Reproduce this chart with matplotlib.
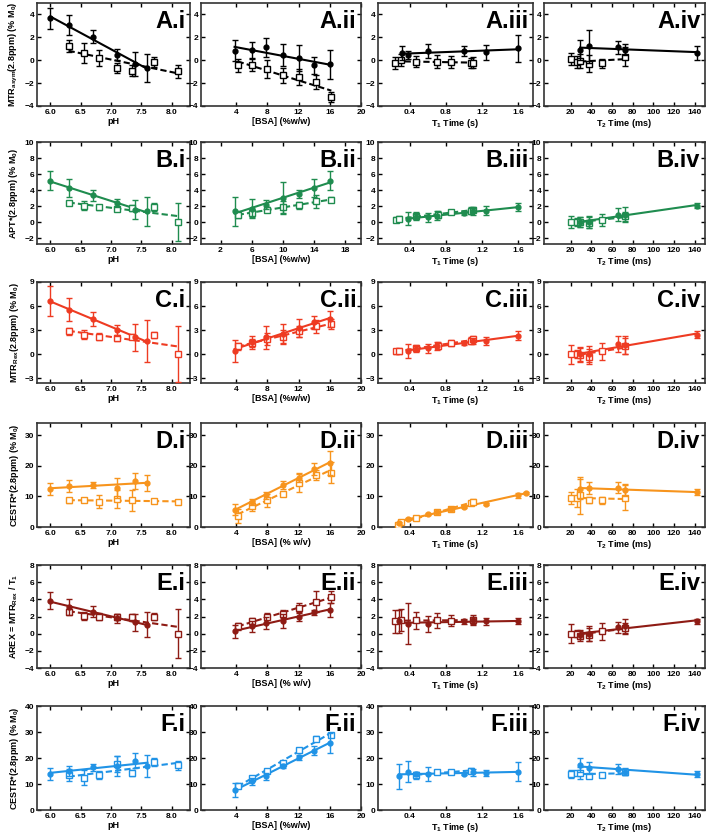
import numpy as np
import matplotlib
matplotlib.use('Agg')
import matplotlib.pyplot as plt

plt.rcParams['font.family'] = 'Liberation Sans'
plt.rcParams['font.weight'] = 'bold'
plt.rcParams['mathtext.fontset'] = 'custom'
plt.rcParams['mathtext.rm'] = 'Liberation Sans:bold'
plt.rcParams['mathtext.it'] = 'Liberation Sans:bold'
plt.rcParams['mathtext.bf'] = 'Liberation Sans:bold'
plt.rcParams['mathtext.default'] = 'rm'

# x values shared by all rows
ph_fill = [6.0, 6.3, 6.7, 7.1, 7.4, 7.6]
ph_open = [6.3, 6.55, 6.8, 7.1, 7.35, 7.7, 8.1]
bsa_fill = [3.8, 6.0, 7.8, 10.0, 12.0, 14.0, 16.0]
bsa_open = [4.2, 6.0, 8.0, 10.0, 12.0, 14.2, 16.2]

# ---- row A : MTRasym
A_ph_fill = [3.65, 3.08, 2.07, 0.49, -0.32, -0.66]
A_ph_fill_err = [0.9, 0.9, 0.58, 0.45, 1.07, 1.2]
A_ph_open = [1.27, 0.63, 0.2, -0.66, -0.92, -0.12, -0.98]
A_ph_open_err = [0.53, 0.9, 0.72, 0.46, 0.47, 0.43, 0.53]
A_bsa_fill = [0.83, 0.9, 1.12, 0.46, 0.2, -0.46, -0.37]
A_bsa_fill_err = [0.93, 0.68, 0.8, 1.0, 1.1, 0.72, 1.25]
A_bsa_open = [-0.46, -0.4, -0.75, -1.32, -1.47, -1.9, -3.2]
A_bsa_open_err = [0.53, 0.53, 0.78, 0.68, 0.72, 0.58, 0.43]
A_t1_fill_x = [0.31, 0.38, 0.6, 1.0, 1.24, 1.6]
A_t1_fill = [0.63, 0.46, 0.78, 0.78, 0.7, 1.04]
A_t1_fill_err = [0.65, 0.35, 0.6, 0.45, 0.65, 1.2]
A_t1_open_x = [0.24, 0.3, 0.47, 0.7, 0.86, 1.08, 1.1]
A_t1_open = [-0.23, 0.03, -0.12, -0.12, -0.17, -0.25, -0.2]
A_t1_open_err = [0.5, 0.55, 0.5, 0.55, 0.5, 0.45, 0.5]
A_t2_fill_x = [29, 38, 66, 72, 142]
A_t2_fill = [0.9, 1.2, 1.12, 0.92, 0.66]
A_t2_fill_err = [0.9, 1.4, 0.6, 0.5, 0.6]
A_t2_open_x = [20, 26, 29, 38, 50, 72]
A_t2_open = [0.12, -0.17, -0.1, -0.32, -0.26, 0.32]
A_t2_open_err = [0.5, 0.5, 0.6, 0.75, 0.4, 0.8]

# ---- row B : APT*
B_ph_fill = [5.17, 4.25, 3.33, 2.37, 1.54, 1.33]
B_ph_fill_err = [1.15, 1.15, 0.65, 0.45, 1.2, 1.85]
B_ph_open = [2.37, 2.04, 1.83, 1.67, 1.75, 1.92, 0.0]
B_ph_open_err = [0.3, 0.55, 0.35, 0.35, 0.4, 0.5, 2.4]
B_bsa_fill = [1.33, 1.67, 2.17, 3.0, 3.5, 4.25, 5.17]
B_bsa_fill_err = [1.85, 1.2, 0.55, 1.95, 0.5, 1.15, 1.15]
B_bsa_open = [0.92, 1.12, 1.54, 1.83, 2.08, 2.58, 2.79]
B_bsa_open_err = [0.4, 0.5, 0.3, 0.75, 0.45, 0.8, 0.35]
B_t1_fill_x = [0.38, 0.47, 0.6, 0.7, 1.0, 1.1, 1.24, 1.6]
B_t1_fill = [0.42, 0.62, 0.58, 0.79, 1.12, 1.33, 1.42, 1.87]
B_t1_fill_err = [0.85, 0.4, 0.6, 0.55, 0.3, 0.4, 0.55, 0.45]
B_t1_open_x = [0.25, 0.28, 0.47, 0.71, 0.86, 1.08, 1.1]
B_t1_open = [0.29, 0.42, 0.79, 0.92, 1.21, 1.42, 1.54]
B_t1_open_err = [0.3, 0.35, 0.4, 0.4, 0.25, 0.4, 0.35]
B_t2_fill_x = [29, 38, 66, 72, 142]
B_t2_fill = [0.0, 0.0, 0.92, 0.92, 2.04]
B_t2_fill_err = [0.65, 0.8, 0.85, 0.9, 0.35]
B_t2_open_x = [20, 26, 29, 38, 50, 72]
B_t2_open = [0.0, 0.0, 0.0, -0.1, 0.25, 0.7]
B_t2_open_err = [0.8, 0.5, 0.6, 0.7, 0.8, 0.6]

# ---- row C : MTRRex
C_ph_fill = [6.67, 5.54, 4.42, 2.96, 2.08, 1.67]
C_ph_fill_err = [1.85, 1.45, 0.85, 0.7, 1.7, 2.6]
C_ph_open = [2.83, 2.42, 2.2, 2.0, 2.2, 2.42, 0.0]
C_ph_open_err = [0.4, 0.55, 0.4, 0.35, 0.35, 0.4, 3.45]
C_bsa_fill = [0.42, 1.46, 2.08, 2.5, 3.25, 3.96, 4.38]
C_bsa_fill_err = [1.4, 0.8, 1.4, 1.2, 1.1, 0.8, 0.95]
C_bsa_open = [0.96, 1.38, 1.88, 2.2, 2.83, 3.46, 3.75]
C_bsa_open_err = [0.4, 0.55, 0.75, 0.75, 0.65, 0.8, 0.6]
C_t1_fill_x = [0.38, 0.47, 0.6, 0.7, 1.0, 1.1, 1.24, 1.6]
C_t1_fill = [0.42, 0.62, 0.75, 1.04, 1.38, 1.67, 1.67, 2.29]
C_t1_fill_err = [0.85, 0.4, 0.55, 0.5, 0.3, 0.35, 0.5, 0.55]
C_t1_open_x = [0.25, 0.28, 0.47, 0.71, 0.86, 1.08, 1.1]
C_t1_open = [0.33, 0.42, 0.75, 1.04, 1.38, 1.67, 1.88]
C_t1_open_err = [0.3, 0.35, 0.4, 0.45, 0.35, 0.45, 0.4]
C_t2_fill_x = [29, 38, 66, 72, 142]
C_t2_fill = [0.0, 0.0, 1.25, 1.17, 2.42]
C_t2_fill_err = [0.9, 1.0, 1.0, 1.1, 0.45]
C_t2_open_x = [20, 26, 29, 38, 50, 72]
C_t2_open = [0.0, 0.0, -0.1, -0.3, 0.33, 0.96]
C_t2_open_err = [1.2, 0.5, 0.9, 0.9, 1.0, 1.0]

# ---- row D : CESTR* (% w/v)
D_ph_fill = [12.45, 13.4, 13.7, 12.8, 15.1, 14.3]
D_ph_fill_err = [2.0, 2.0, 1.0, 3.3, 2.6, 2.6]
D_ph_open = [8.7, 8.7, 8.3, 9.1, 8.7, 8.5, 8.15]
D_ph_open_err = [0.8, 0.5, 2.0, 2.9, 3.5, 0.8, 0.4]
D_bsa_fill = [5.66, 8.27, 10.4, 13.6, 16.1, 18.9, 20.9]
D_bsa_fill_err = [1.8, 1.0, 1.2, 1.3, 1.5, 2.0, 3.9]
D_bsa_open = [3.6, 6.8, 8.7, 10.8, 14.4, 17.0, 17.8]
D_bsa_open_err = [2.2, 1.6, 2.0, 0.6, 3.0, 1.7, 3.5]
D_t1_fill_x = [0.28, 0.38, 0.6, 0.7, 0.86, 1.0, 1.24, 1.6, 1.68]
D_t1_fill = [1.36, 2.6, 4.2, 4.9, 6.0, 6.6, 7.6, 10.4, 11.2]
D_t1_fill_err = [0.4, 0.4, 0.3, 0.3, 0.4, 0.4, 0.3, 0.8, 0.3]
D_t1_open_x = [0.27, 0.3, 0.47, 0.7, 0.86, 1.08, 1.1]
D_t1_open = [0.8, 1.5, 2.8, 4.9, 6.0, 7.9, 8.3]
D_t1_open_err = [0.4, 0.3, 0.4, 0.4, 0.4, 0.5, 0.7]
D_t2_fill_x = [29, 38, 66, 72, 142]
D_t2_fill = [12.45, 12.7, 12.8, 12.1, 11.3]
D_t2_fill_err = [3.3, 2.0, 1.8, 1.9, 1.0]
D_t2_open_x = [20, 26, 29, 38, 50, 72]
D_t2_open = [9.6, 9.4, 10.4, 8.7, 8.7, 9.6]
D_t2_open_err = [2.0, 3.0, 6.0, 1.0, 1.2, 4.0]

# ---- row E : AREX
E_ph_fill = [3.82, 3.08, 2.58, 1.8, 1.34, 1.03]
E_ph_fill_err = [1.0, 0.95, 0.6, 0.5, 1.0, 1.45]
E_ph_open = [2.58, 2.07, 2.0, 1.89, 1.89, 2.0, 0.0]
E_ph_open_err = [0.3, 0.45, 0.4, 0.35, 0.4, 0.45, 2.85]
E_bsa_fill = [0.26, 0.84, 1.23, 1.5, 2.0, 2.5, 2.78]
E_bsa_fill_err = [0.8, 0.6, 0.7, 0.8, 0.5, 0.3, 0.85]
E_bsa_open = [0.84, 1.42, 2.0, 2.27, 2.97, 3.74, 4.24]
E_bsa_open_err = [0.45, 0.4, 0.45, 0.5, 0.6, 1.2, 0.7]
E_t1_fill_x = [0.28, 0.38, 0.6, 1.0, 1.1, 1.24, 1.6]
E_t1_fill = [1.42, 1.15, 1.15, 1.42, 1.54, 1.42, 1.42]
E_t1_fill_err = [1.3, 2.4, 0.9, 0.3, 0.45, 0.45, 0.35]
E_t1_open_x = [0.24, 0.3, 0.47, 0.7, 0.86, 1.1]
E_t1_open = [1.42, 1.62, 1.54, 1.54, 1.5, 1.62]
E_t1_open_err = [1.3, 1.3, 1.0, 0.85, 0.65, 0.6]
E_t2_fill_x = [29, 38, 66, 72, 142]
E_t2_fill = [-0.1, 0.0, 0.72, 0.84, 1.42]
E_t2_fill_err = [0.55, 0.9, 0.6, 0.85, 0.25]
E_t2_open_x = [20, 26, 29, 38, 50, 72]
E_t2_open = [0.0, 0.0, -0.3, -0.1, 0.26, 0.65]
E_t2_open_err = [1.1, 0.4, 0.6, 0.8, 0.95, 0.55]

# ---- row F : CESTR* (% w/w)
F_ph_fill = [13.9, 15.1, 16.4, 16.8, 19.0, 17.0]
F_ph_fill_err = [2.2, 2.0, 1.3, 3.9, 2.8, 4.2]
F_ph_open = [13.3, 12.5, 13.5, 17.7, 14.2, 18.5, 17.2]
F_ph_open_err = [2.3, 2.7, 1.5, 3.0, 1.0, 1.5, 1.8]
F_bsa_fill = [7.7, 11.0, 12.9, 17.0, 20.3, 22.8, 25.8]
F_bsa_fill_err = [2.6, 1.5, 1.5, 0.8, 0.9, 1.8, 3.7]
F_bsa_open = [9.3, 12.3, 15.1, 18.1, 23.2, 27.5, 28.8]
F_bsa_open_err = [1.0, 0.8, 0.7, 0.8, 0.7, 0.8, 0.8]
F_t1_fill_x = [0.28, 0.38, 0.47, 0.6, 1.0, 1.1, 1.24, 1.6]
F_t1_fill = [12.9, 14.8, 13.9, 13.9, 13.9, 14.5, 14.2, 14.8]
F_t1_fill_err = [4.7, 4.2, 0.8, 2.8, 0.5, 1.3, 1.0, 3.5]
F_t1_open_x = [0.47, 0.7, 0.86, 1.08]
F_t1_open = [13.3, 14.6, 14.6, 15.1]
F_t1_open_err = [1.5, 0.4, 0.5, 1.0]
F_t2_fill_x = [29, 38, 66, 72, 142]
F_t2_fill = [17.4, 16.1, 15.9, 14.8, 13.8]
F_t2_fill_err = [2.6, 2.3, 1.9, 1.2, 1.2]
F_t2_open_x = [20, 26, 29, 38, 50, 72]
F_t2_open = [13.8, 14.2, 14.2, 13.2, 13.3, 14.6]
F_t2_open_err = [1.6, 0.8, 2.3, 0.8, 0.5, 1.2]

row_names = ['A', 'B', 'C', 'D', 'E', 'F']
col_names = ['i', 'ii', 'iii', 'iv']
row_colors = ['#000000', '#1f8c4f', '#ee3b22', '#f7941d', '#8e1b14', '#2093e6']
row_ylabels = ['MTR$_{asym}$(2.8ppm) (% M$_0$)',
               'APT*(2.8ppm) (% M$_0$)',
               'MTR$_{Rex}$(2.8ppm) (% M$_0$)',
               'CESTR*(2.8ppm) (% M$_0$)',
               'AREX = MTR$_{Rex}$ / T$_1$',
               'CESTR*(2.8ppm) (% M$_0$)']
row_ylims = [(-4, 5), (-2.75, 10), (-3.6, 9), (0, 34), (-4, 8), (0, 40)]
row_yticks = [np.arange(-4, 5, 2), np.arange(-2, 11, 2), np.arange(-3, 10, 3),
              np.arange(0, 31, 10), np.arange(-4, 9, 2), np.arange(0, 41, 10)]
bsa_labels = ['[BSA] (%w/w)', '[BSA] (%w/w)', '[BSA] (%w/w)',
              '[BSA] (% w/v)', '[BSA] (% w/v)', '[BSA] (%w/w)']

g = globals()

fig = plt.figure(figsize=(7.09, 8.38), dpi=100)
W, H = 709.0, 838.0
col_left = [37, 201, 378, 544]
col_width = [153, 160, 155, 161]
row_top = [3, 142, 282, 423, 565, 706]
row_height = [103, 102, 101, 104, 103, 104]


def draw(ax, xf, yf, ef, xo, yo, eo, color):
    ax.errorbar(xo, yo, yerr=eo, fmt='s', ms=5, mfc='white', mec=color, mew=1.0,
                color=color, ecolor=color, elinewidth=1.0, capsize=2.5, capthick=1.0,
                zorder=3)
    ax.errorbar(xf, yf, yerr=ef, fmt='o', ms=3.5, color=color, ecolor=color,
                elinewidth=1.0, capsize=2.5, capthick=1.0, zorder=4)
    for x, y, ls in ((xf, yf, '-'), (xo, yo, '--')):
        p = np.polyfit(x, y, 1)
        xx = np.array([min(x), max(x)])
        line, = ax.plot(xx, np.polyval(p, xx), ls=ls, color=color, lw=1.5, zorder=2)
        if ls == '--':
            line.set_dashes((3, 1.5))


for r, rn in enumerate(row_names):
    color = row_colors[r]
    for c in range(4):
        left = col_left[c] / W
        bottom = 1 - (row_top[r] + row_height[r]) / H
        ax = fig.add_axes([left, bottom, col_width[c] / W, row_height[r] / H])
        if c == 0:
            draw(ax, ph_fill, g[rn + '_ph_fill'], g[rn + '_ph_fill_err'],
                 ph_open, g[rn + '_ph_open'], g[rn + '_ph_open_err'], color)
            ax.set_xlim(5.78, 8.3)
            ax.set_xticks([6.0, 6.5, 7.0, 7.5, 8.0])
            ax.set_xticklabels(['6.0', '6.5', '7.0', '7.5', '8.0'])
            ax.set_xlabel('pH', fontsize=6.5, fontweight='bold', labelpad=1)
            ax.set_ylabel(row_ylabels[r], fontsize=6.5, fontweight='bold', labelpad=3)
        elif c == 1:
            draw(ax, bsa_fill, g[rn + '_bsa_fill'], g[rn + '_bsa_fill_err'],
                 bsa_open, g[rn + '_bsa_open'], g[rn + '_bsa_open_err'], color)
            ax.set_xlim(-0.5, 20)
            if rn == 'B':
                ax.set_xticks([2, 6, 10, 14, 18])
            else:
                ax.set_xticks([4, 8, 12, 16, 20])
            ax.set_xlabel(bsa_labels[r], fontsize=6.5, fontweight='bold', labelpad=1)
        elif c == 2:
            draw(ax, g[rn + '_t1_fill_x'], g[rn + '_t1_fill'], g[rn + '_t1_fill_err'],
                 g[rn + '_t1_open_x'], g[rn + '_t1_open'], g[rn + '_t1_open_err'], color)
            ax.set_xlim(0.05, 1.76)
            ax.set_xticks([0.4, 0.8, 1.2, 1.6])
            ax.set_xlabel('T$_1$ Time (s)', fontsize=6.5, fontweight='bold', labelpad=1)
        else:
            draw(ax, g[rn + '_t2_fill_x'], g[rn + '_t2_fill'], g[rn + '_t2_fill_err'],
                 g[rn + '_t2_open_x'], g[rn + '_t2_open'], g[rn + '_t2_open_err'], color)
            ax.set_xlim(-6, 150)
            ax.set_xticks(np.arange(20, 141, 20))
            ax.set_xlabel('T$_2$ Time (ms)', fontsize=6.5, fontweight='bold', labelpad=1)
        ax.set_ylim(*row_ylims[r])
        ax.set_yticks(row_yticks[r])
        ax.tick_params(direction='in', top=True, right=True, length=3, width=1,
                       labelsize=6, pad=2)
        for lab in ax.get_xticklabels() + ax.get_yticklabels():
            lab.set_fontweight('bold')
        for s in ax.spines.values():
            s.set_linewidth(1.2)
            s.set_color('#333333')
        ax.text(0.97, 0.93, rn + '.' + col_names[c], transform=ax.transAxes,
                ha='right', va='top', fontsize=17, fontweight='bold')

fig.savefig('out.png', dpi=100)
